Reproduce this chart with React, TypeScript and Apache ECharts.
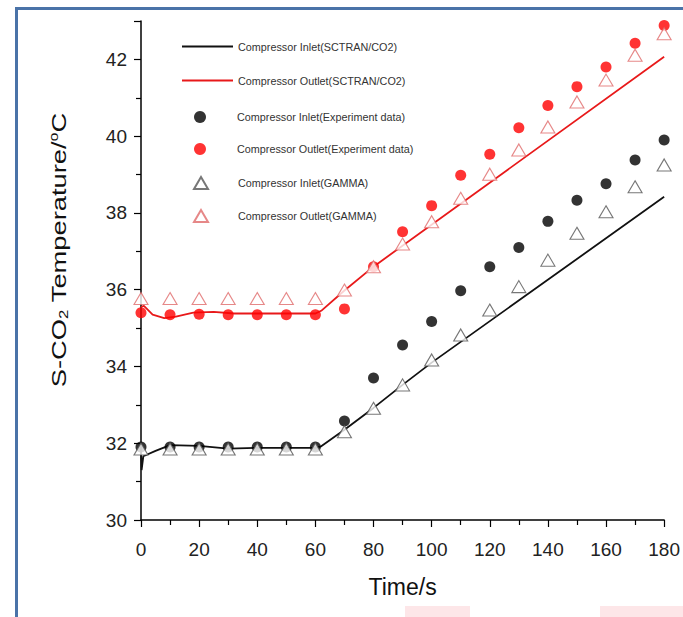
import React, { useEffect, useRef } from "react";
import * as echarts from "echarts";

const times = [0, 10, 20, 30, 40, 50, 60, 70, 80, 90, 100, 110, 120, 130, 140, 150, 160, 170, 180];
const inletExp = [31.9, 31.9, 31.9, 31.9, 31.9, 31.9, 31.9, 32.58, 33.7, 34.56, 35.17, 35.97, 36.6, 37.1, 37.78, 38.33, 38.76, 39.38, 39.9];
const outletExp = [35.4, 35.35, 35.36, 35.35, 35.35, 35.35, 35.35, 35.5, 36.6, 37.51, 38.19, 38.98, 39.53, 40.22, 40.8, 41.29, 41.8, 42.42, 42.88];
const inletGamma = [31.85, 31.85, 31.85, 31.85, 31.85, 31.85, 31.85, 32.3, 32.91, 33.52, 34.17, 34.82, 35.47, 36.08, 36.77, 37.47, 38.03, 38.68, 39.25];
const outletGamma = [35.77, 35.77, 35.77, 35.77, 35.77, 35.77, 35.77, 35.99, 36.6, 37.19, 37.77, 38.38, 39.01, 39.64, 40.24, 40.89, 41.46, 42.11, 42.67];

const inletSimT = [0, 0.2, 0.8, 5, 10, 20, 30, 40, 60, 62, 70, 80, 90, 100, 180];
const inletSimV = [31.85, 31.3, 31.66, 31.8, 31.95, 31.93, 31.86, 31.88, 31.88, 31.92, 32.35, 32.92, 33.52, 34.1, 38.42];
const outletSimT = [0, 1, 4, 8, 12, 18, 25, 32, 60, 62, 70, 80, 180];
const outletSimV = [35.55, 35.58, 35.35, 35.26, 35.3, 35.4, 35.42, 35.38, 35.38, 35.45, 35.98, 36.6, 42.07];

const xTicks = { min: 0, max: 180, interval: 20 };
const yTicks = { min: 30, max: 43, interval: 2 };

const names = [
  "Compressor Inlet(SCTRAN/CO2)",
  "Compressor Outlet(SCTRAN/CO2)",
  "Compressor Inlet(Experiment data)",
  "Compressor Outlet(Experiment data)",
  "Compressor Inlet(GAMMA)",
  "Compressor Outlet(GAMMA)",
];

const FONT = "'Liberation Sans', Arial, sans-serif";

const pair = (xs: number[], ys: number[]) => xs.map((x, i) => [x, ys[i]]);

export default function App() {
  const ref = useRef<HTMLDivElement>(null);
  useEffect(() => {
    document.body.style.margin = "0";
    const chart = echarts.init(ref.current!, null, { renderer: "svg" });
    const legendText = { fontFamily: FONT, fontSize: 10.8, color: "#333" };
    chart.setOption({
      animation: false,
      backgroundColor: "#fff",
      grid: { left: 141, right: 17, top: 21, bottom: 97, containLabel: false },
      xAxis: {
        type: "value",
        min: xTicks.min,
        max: xTicks.max,
        interval: xTicks.interval,
        name: "Time/s",
        nameLocation: "middle",
        nameGap: 55,
        nameTextStyle: { fontFamily: FONT, fontSize: 23, color: "#111" },
        axisLine: { show: true, lineStyle: { color: "#000", width: 1.5 } },
        axisTick: { show: true, length: 7, lineStyle: { color: "#000", width: 1.2 } },
        minorTick: { show: true, splitNumber: 2, length: 5, lineStyle: { color: "#000", width: 1.2 } },
        axisLabel: { fontFamily: FONT, fontSize: 19, color: "#222", margin: 20 },
        splitLine: { show: false },
      },
      yAxis: {
        type: "value",
        min: yTicks.min,
        max: yTicks.max,
        interval: yTicks.interval,
        axisLine: { show: true, lineStyle: { color: "#000", width: 1.5 } },
        axisTick: { show: true, length: 7, lineStyle: { color: "#000", width: 1.2 } },
        minorTick: { show: true, splitNumber: 2, length: 5, lineStyle: { color: "#000", width: 1.2 } },
        axisLabel: {
          fontFamily: FONT,
          fontSize: 19,
          color: "#222",
          margin: 14,
          formatter: (v: number) => (v === yTicks.max ? "" : String(v)),
        },
        splitLine: { show: false },
      },
      legend: [
        {
          orient: "vertical",
          left: 177,
          top: 36,
          itemWidth: 51,
          itemHeight: 2,
          itemGap: 23,
          icon: "rect",
          selectedMode: false,
          data: [names[0], names[1]],
          textStyle: legendText,
        },
        {
          orient: "vertical",
          left: 189,
          top: 106,
          itemWidth: 12,
          itemHeight: 12,
          itemGap: 20,
          selectedMode: false,
          data: [names[2], names[3]],
          textStyle: { ...legendText, padding: [0, 0, 0, 26] },
        },
        {
          orient: "vertical",
          left: 188,
          top: 171,
          itemWidth: 14,
          itemHeight: 12,
          itemGap: 19,
          selectedMode: false,
          data: [names[4], names[5]],
          textStyle: { ...legendText, padding: [0, 0, 0, 25] },
        },
      ],
      graphic: [
        {
          type: "text",
          silent: true,
          x: 59,
          y: 250,
          rotation: Math.PI / 2,
          scaleX: 1.3,
          style: {
            text: "S-CO{sub|2} Temperature/{sup|o}C",
            fontFamily: FONT,
            fontSize: 21,
            fill: "#111",
            align: "center",
            verticalAlign: "middle",
            rich: {
              sub: { fontFamily: FONT, fontSize: 13, verticalAlign: "bottom", padding: [9, 0, 0, 0], fill: "#111" },
              sup: { fontFamily: FONT, fontSize: 12, verticalAlign: "top", padding: [0, 0, 9, 0], fill: "#111" },
            },
          },
        },
        {
          type: "rect",
          z: 100,
          silent: true,
          shape: { x: 16.5, y: 8.5, width: 800, height: 800 },
          style: { fill: "none", stroke: "#4a73a8", lineWidth: 3 },
        },
        {
          type: "rect",
          silent: true,
          shape: { x: 405, y: 606, width: 65, height: 11 },
          style: { fill: "#fde6e8" },
        },
        {
          type: "rect",
          silent: true,
          shape: { x: 600, y: 606, width: 83, height: 11 },
          style: { fill: "#fde6e8" },
        },
      ],
      series: [
        {
          name: names[0],
          type: "line",
          symbol: "none",
          data: pair(inletSimT, inletSimV),
          lineStyle: { color: "#111", width: 1.8 },
          itemStyle: { color: "#111" },
          z: 2,
        },
        {
          name: names[1],
          type: "line",
          symbol: "none",
          data: pair(outletSimT, outletSimV),
          lineStyle: { color: "#e8191a", width: 1.8 },
          itemStyle: { color: "#e8191a" },
          z: 2,
        },
        {
          name: names[2],
          type: "scatter",
          symbol: "circle",
          symbolSize: 11,
          clip: false,
          data: pair(times, inletExp),
          itemStyle: { color: "#000" },
          z: 3,
        },
        {
          name: names[3],
          type: "scatter",
          symbol: "circle",
          symbolSize: 11,
          clip: false,
          data: pair(times, outletExp),
          itemStyle: { color: "#ff0000" },
          z: 3,
        },
        {
          name: names[4],
          type: "scatter",
          symbol: "triangle",
          symbolSize: [14, 12],
          clip: false,
          data: pair(times, inletGamma),
          itemStyle: { color: "#fff", borderColor: "#555", borderWidth: 1.1 },
          z: 4,
        },
        {
          name: names[5],
          type: "scatter",
          symbol: "triangle",
          symbolSize: [14, 12],
          clip: false,
          data: pair(times, outletGamma),
          itemStyle: { color: "#fff", borderColor: "#e06a6a", borderWidth: 1.1 },
          z: 4,
        },
      ],
    });
    return () => chart.dispose();
  }, []);
  return <div ref={ref} style={{ width: 683, height: 617 }} />;
}
